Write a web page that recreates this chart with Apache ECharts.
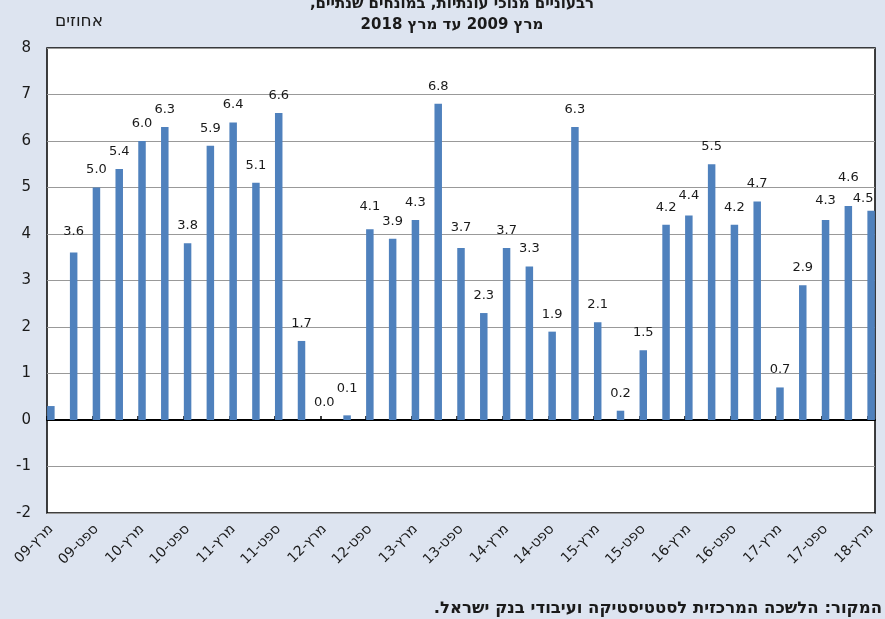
<!DOCTYPE html>
<html>
<head>
<meta charset="utf-8">
<script src="https://cdn.jsdelivr.net/npm/echarts@6/dist/echarts.min.js"></script>
<style>
html,body{margin:0;padding:0;background:#dde4f0;}
#c{width:885px;height:619px;}
</style>
</head>
<body>
<div id="c"></div>
<script>
// ---- data ----
// quarter labels (number written first so the LTR canvas shows them as in the RTL original)
const categories = [
  '09-מרץ','09-יוני','09-ספט','09-דצמ',
  '10-מרץ','10-יוני','10-ספט','10-דצמ',
  '11-מרץ','11-יוני','11-ספט','11-דצמ',
  '12-מרץ','12-יוני','12-ספט','12-דצמ',
  '13-מרץ','13-יוני','13-ספט','13-דצמ',
  '14-מרץ','14-יוני','14-ספט','14-דצמ',
  '15-מרץ','15-יוני','15-ספט','15-דצמ',
  '16-מרץ','16-יוני','16-ספט','16-דצמ',
  '17-מרץ','17-יוני','17-ספט','17-דצמ',
  '18-מרץ'
];
const values = [0.3,3.6,5.0,5.4,6.0,6.3,3.8,5.9,6.4,5.1,6.6,1.7,0.0,0.1,4.1,3.9,4.3,6.8,3.7,2.3,3.7,3.3,1.9,6.3,2.1,0.2,1.5,4.2,4.4,5.5,4.2,4.7,0.7,2.9,4.3,4.6,4.5];
const yTicks = [-2,-1,0,1,2,3,4,5,6,7,8];
const titleLines = [',רבעוניים מנוכי עונתיות, במונחים שנתיים', 'מרץ 2009 עד מרץ 2018'];
const unitLabel = 'אחוזים';
const sourceBold = ':המקור';
const sourceText = '.הלשכה המרכזית לסטטיסטיקה ועיבודי בנק ישראל';
const hiddenLabels = [0];

// ---- layout helpers (label nudges, not data) ----
const labelNudge = {1:[0,-3],13:[0,-9],14:[0,-5],18:[0,-3],28:[0,-2],34:[0,-2],35:[0,-11],36:[-8,5]};

const FONT = 'DejaVu Sans';

const labelIdx = [];
for (let i = 0; i < categories.length; i += 2) labelIdx.push(i);
const tickPos = labelIdx.map(i => i - 0.17);

const barData = values.map((v, i) => {
  const item = { value: [i, v] };
  if (hiddenLabels.includes(i)) item.label = { show: false };
  else if (labelNudge[i]) item.label = { offset: labelNudge[i] };
  return item;
});

const chart = echarts.init(document.getElementById('c'), null, { renderer: 'canvas' });
chart.setOption({
  backgroundColor: '#dde4f0',
  animation: false,
  title: [
    {
      text: titleLines[0] + '\n' + titleLines[1],
      left: 447, top: -11, textAlign: 'center',
      textStyle: { fontFamily: FONT, fontWeight: 'bold', fontSize: 15, lineHeight: 21, color: '#1a1a1a' }
    },
    {
      text: unitLabel,
      left: 50, top: 8,
      textStyle: { fontFamily: FONT, fontWeight: 'normal', fontSize: 17, color: '#1a1a1a' }
    },
    {
      text: '{n|' + sourceText + ' }{b|' + sourceBold + '}',
      right: -2, top: 595,
      textStyle: {
        rich: {
          n: { fontFamily: FONT, fontSize: 16.5, color: '#1a1a1a' },
          b: { fontFamily: FONT, fontSize: 16.5, fontWeight: 'bold', color: '#1a1a1a' }
        }
      }
    }
  ],
  grid: {
    left: 47, top: 48, width: 828, height: 465,
    show: true, backgroundColor: '#ffffff', borderColor: '#000000', borderWidth: 1.5
  },
  xAxis: [
    {
      type: 'value', min: -0.17, max: 36.17, position: 'bottom',
      axisLine: { show: false, onZero: false },
      axisTick: { show: false },
      splitLine: { show: false },
      axisLabel: {
        customValues: labelIdx,
        rotate: 45, margin: 14,
        fontFamily: FONT, fontSize: 14, color: '#1a1a1a',
        formatter: v => categories[Math.round(v)]
      }
    },
    {
      type: 'value', min: -0.17, max: 36.17, position: 'bottom',
      axisLine: { show: true, onZero: true, lineStyle: { color: '#000000', width: 2 } },
      axisTick: { show: true, inside: true, length: 4, customValues: tickPos, lineStyle: { color: '#000000', width: 1.5 } },
      axisLabel: { show: false },
      splitLine: { show: false }
    }
  ],
  yAxis: {
    type: 'value', min: yTicks[0], max: yTicks[yTicks.length - 1], interval: 1,
    axisLine: { show: false },
    axisTick: { show: false },
    axisLabel: { margin: 16, fontFamily: FONT, fontSize: 15, color: '#1a1a1a' },
    splitLine: { show: true, lineStyle: { color: '#999999', width: 1 } }
  },
  series: [
    {
      type: 'bar', xAxisIndex: 0, yAxisIndex: 0,
      data: barData,
      barWidth: 7.5,
      itemStyle: { color: '#4f81bd' },
      label: {
        show: true, position: 'top', distance: 11,
        fontFamily: FONT, fontSize: 13, color: '#1a1a1a',
        formatter: p => p.value[1].toFixed(1)
      },
      z: 3
    }
  ]
});
</script>
</body>
</html>
